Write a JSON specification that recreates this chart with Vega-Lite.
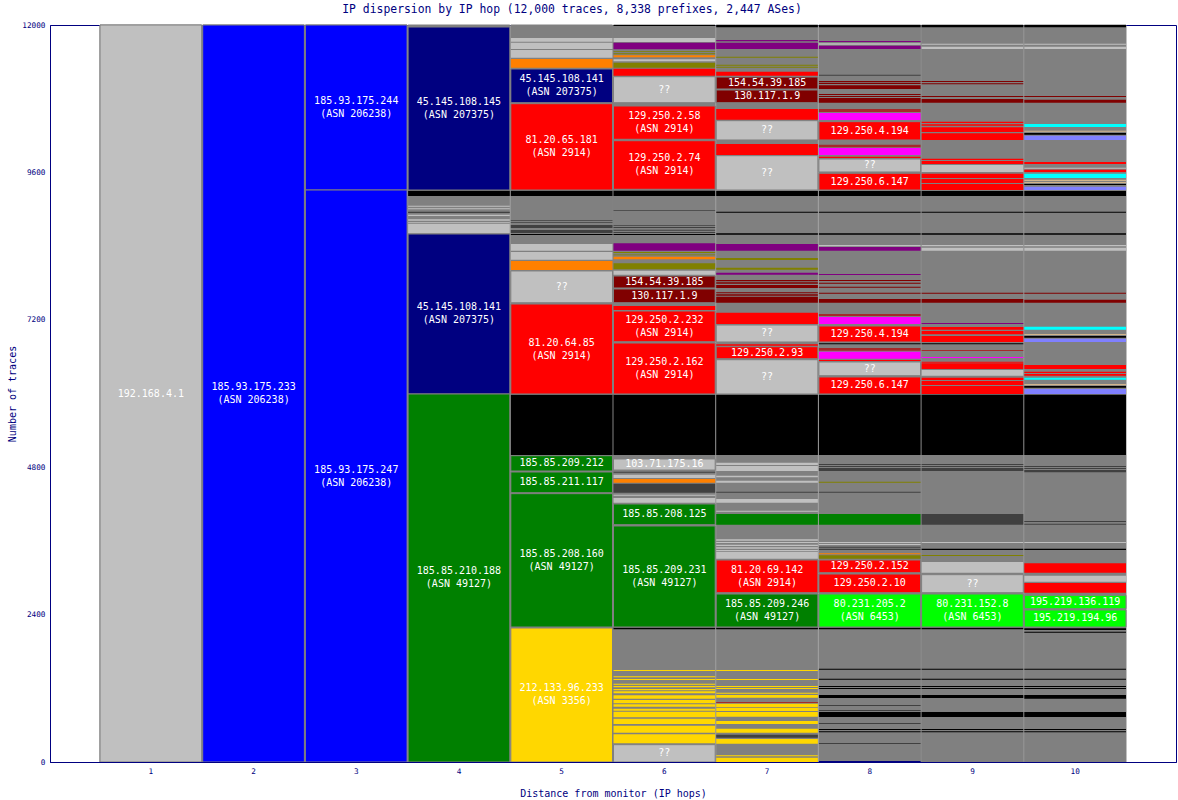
{
"$schema":"https://vega.github.io/schema/vega-lite/v6.json",
"width":1126,"height":737,
"autosize":"none",
"padding":{"left":50,"top":25,"right":2,"bottom":38},
"background":"white",
"title":{"text":"IP dispersion by IP hop (12,000 traces, 8,338 prefixes, 2,447 ASes)","font":"DejaVu Sans Mono","fontSize":11.4,"fontWeight":"normal","color":"#000080","anchor":"middle","dx":-41,"offset":6},
"config":{"view":{"stroke":"#000080","strokeWidth":1},
 "axis":{"domainColor":"#000080","labelColor":"#000080","titleColor":"#000080","labelFont":"DejaVu Sans Mono","titleFont":"DejaVu Sans Mono","labelFontSize":7.7,"titleFontSize":10,"titleFontWeight":"normal","ticks":false,"grid":false}},
"data":{"values":[
{"h":1,"lo":0,"hi":12000,"g":"other"},{"h":2,"lo":0,"hi":12000,"g":"other"},{"h":3,"lo":0,"hi":12000,"g":"other"},{"h":4,"lo":0,"hi":12000,"g":"other"},{"h":5,"lo":0,"hi":12000,"g":"other"},{"h":6,"lo":0,"hi":12000,"g":"other"},{"h":7,"lo":0,"hi":12000,"g":"other"},{"h":8,"lo":0,"hi":12000,"g":"other"},{"h":9,"lo":0,"hi":12000,"g":"other"},{"h":10,"lo":0,"hi":12000,"g":"other"},
{"h":1,"lo":0,"hi":12000,"g":"unknown","t":"192.168.4.1"},
{"h":2,"lo":0,"hi":12000,"g":"AS206238","t":"185.93.175.233","a":"(ASN 206238)"},
{"h":3,"lo":9313,"hi":12000,"g":"AS206238","t":"185.93.175.244","a":"(ASN 206238)"},
{"h":3,"lo":0,"hi":9313,"g":"AS206238","t":"185.93.175.247","a":"(ASN 206238)"},
{"h":4,"lo":9313,"hi":11967,"g":"AS207375","t":"45.145.108.145","a":"(ASN 207375)"},
{"h":4,"lo":9216,"hi":9302,"g":"none"},
{"h":4,"lo":9042,"hi":9058,"g":"unknown"},
{"h":4,"lo":8999,"hi":9016,"g":"unknown"},
{"h":4,"lo":8939,"hi":8960,"g":"AS h"},
{"h":4,"lo":8890,"hi":8911,"g":"unknown"},
{"h":4,"lo":8814,"hi":8836,"g":"unknown"},
{"h":4,"lo":8771,"hi":8788,"g":"unknown"},
{"h":4,"lo":8608,"hi":8760,"g":"unknown"},
{"h":4,"lo":5992,"hi":8597,"g":"AS207375","t":"45.145.108.141","a":"(ASN 207375)"},
{"h":4,"lo":0,"hi":5992,"g":"AS49127","t":"185.85.210.188","a":"(ASN 49127)"},
{"h":5,"lo":11728,"hi":11788,"g":"unknown"},
{"h":5,"lo":11609,"hi":11712,"g":"unknown"},
{"h":5,"lo":11468,"hi":11593,"g":"unknown"},
{"h":5,"lo":11305,"hi":11446,"g":"AS c"},
{"h":5,"lo":10735,"hi":11284,"g":"AS207375","t":"45.145.108.141","a":"(ASN 207375)"},
{"h":5,"lo":9313,"hi":10719,"g":"AS2914","t":"81.20.65.181","a":"(ASN 2914)"},
{"h":5,"lo":9216,"hi":9302,"g":"none"},
{"h":5,"lo":8814,"hi":8825,"g":"AS h"},
{"h":5,"lo":8781,"hi":8792,"g":"AS h"},
{"h":5,"lo":8695,"hi":8744,"g":"AS h"},
{"h":5,"lo":8613,"hi":8662,"g":"AS h"},
{"h":5,"lo":8581,"hi":8597,"g":"none"},
{"h":5,"lo":8325,"hi":8434,"g":"unknown"},
{"h":5,"lo":8179,"hi":8304,"g":"unknown"},
{"h":5,"lo":8011,"hi":8157,"g":"AS c"},
{"h":5,"lo":7478,"hi":7995,"g":"unknown","t":"??"},
{"h":5,"lo":5992,"hi":7457,"g":"AS2914","t":"81.20.64.85","a":"(ASN 2914)"},
{"h":5,"lo":4999,"hi":5981,"g":"none"},
{"h":5,"lo":4738,"hi":4987,"g":"AS49127","t":"185.85.209.212"},
{"h":5,"lo":4385,"hi":4722,"g":"AS49127","t":"185.85.211.117"},
{"h":5,"lo":2198,"hi":4369,"g":"AS49127","t":"185.85.208.160","a":"(ASN 49127)"},
{"h":5,"lo":0,"hi":2182,"g":"AS3356","t":"212.133.96.233","a":"(ASN 3356)"},
{"h":6,"lo":11984,"hi":12000,"g":"none"},
{"h":6,"lo":11723,"hi":11788,"g":"unknown"},
{"h":6,"lo":11604,"hi":11712,"g":"AS a"},
{"h":6,"lo":11560,"hi":11572,"g":"AS b"},
{"h":6,"lo":11523,"hi":11539,"g":"AS b"},
{"h":6,"lo":11474,"hi":11507,"g":"AS c"},
{"h":6,"lo":11409,"hi":11442,"g":"unknown"},
{"h":6,"lo":11305,"hi":11386,"g":"AS b"},
{"h":6,"lo":11174,"hi":11288,"g":"AS2914"},
{"h":6,"lo":10735,"hi":11158,"g":"unknown","t":"??"},
{"h":6,"lo":10139,"hi":10681,"g":"AS2914","t":"129.250.2.58","a":"(ASN 2914)"},
{"h":6,"lo":9325,"hi":10116,"g":"AS2914","t":"129.250.2.74","a":"(ASN 2914)"},
{"h":6,"lo":9216,"hi":9302,"g":"none"},
{"h":6,"lo":8976,"hi":8988,"g":"AS h"},
{"h":6,"lo":8732,"hi":8744,"g":"AS h"},
{"h":6,"lo":8695,"hi":8711,"g":"AS h"},
{"h":6,"lo":8651,"hi":8667,"g":"AS h"},
{"h":6,"lo":8613,"hi":8630,"g":"AS h"},
{"h":6,"lo":8581,"hi":8597,"g":"none"},
{"h":6,"lo":8325,"hi":8446,"g":"AS a"},
{"h":6,"lo":8288,"hi":8304,"g":"AS b"},
{"h":6,"lo":8250,"hi":8263,"g":"AS b"},
{"h":6,"lo":8185,"hi":8227,"g":"AS c"},
{"h":6,"lo":8022,"hi":8120,"g":"AS b"},
{"h":6,"lo":7934,"hi":8000,"g":"unknown"},
{"h":6,"lo":7718,"hi":7913,"g":"AS174","t":"154.54.39.185"},
{"h":6,"lo":7478,"hi":7702,"g":"AS174","t":"130.117.1.9"},
{"h":6,"lo":7360,"hi":7425,"g":"AS2914"},
{"h":6,"lo":6843,"hi":7343,"g":"AS2914","t":"129.250.2.232","a":"(ASN 2914)"},
{"h":6,"lo":5992,"hi":6822,"g":"AS2914","t":"129.250.2.162","a":"(ASN 2914)"},
{"h":6,"lo":4999,"hi":5981,"g":"none"},
{"h":6,"lo":4754,"hi":4934,"g":"unknown","t":"103.71.175.16"},
{"h":6,"lo":4711,"hi":4727,"g":"AS h"},
{"h":6,"lo":4624,"hi":4678,"g":"unknown"},
{"h":6,"lo":4548,"hi":4608,"g":"AS c"},
{"h":6,"lo":4385,"hi":4531,"g":"AS h"},
{"h":6,"lo":4336,"hi":4352,"g":"unknown"},
{"h":6,"lo":4222,"hi":4299,"g":"unknown"},
{"h":6,"lo":3864,"hi":4201,"g":"AS49127","t":"185.85.208.125"},
{"h":6,"lo":2198,"hi":3843,"g":"AS49127","t":"185.85.209.231","a":"(ASN 49127)"},
{"h":6,"lo":2161,"hi":2187,"g":"none"},
{"h":6,"lo":1482,"hi":1498,"g":"AS3356"},
{"h":6,"lo":1379,"hi":1395,"g":"AS3356"},
{"h":6,"lo":1335,"hi":1351,"g":"AS3356"},
{"h":6,"lo":1259,"hi":1275,"g":"AS3356"},
{"h":6,"lo":1216,"hi":1237,"g":"AS3356"},
{"h":6,"lo":1167,"hi":1189,"g":"AS3356"},
{"h":6,"lo":1119,"hi":1151,"g":"AS3356"},
{"h":6,"lo":1031,"hi":1086,"g":"AS3356"},
{"h":6,"lo":956,"hi":1010,"g":"AS3356"},
{"h":6,"lo":900,"hi":940,"g":"AS3356"},
{"h":6,"lo":835,"hi":868,"g":"AS3356"},
{"h":6,"lo":728,"hi":819,"g":"AS3356"},
{"h":6,"lo":619,"hi":705,"g":"AS3356"},
{"h":6,"lo":477,"hi":591,"g":"AS3356"},
{"h":6,"lo":305,"hi":451,"g":"AS3356"},
{"h":6,"lo":0,"hi":282,"g":"unknown","t":"??"},
{"h":7,"lo":11962,"hi":12000,"g":"none"},
{"h":7,"lo":11735,"hi":11756,"g":"AS a"},
{"h":7,"lo":11609,"hi":11712,"g":"AS a"},
{"h":7,"lo":11468,"hi":11484,"g":"AS b"},
{"h":7,"lo":11337,"hi":11354,"g":"AS b"},
{"h":7,"lo":11305,"hi":11321,"g":"AS b"},
{"h":7,"lo":11174,"hi":11240,"g":"AS2914"},
{"h":7,"lo":10958,"hi":11153,"g":"AS174","t":"154.54.39.185"},
{"h":7,"lo":10735,"hi":10942,"g":"AS174","t":"130.117.1.9"},
{"h":7,"lo":10458,"hi":10632,"g":"AS2914"},
{"h":7,"lo":10128,"hi":10442,"g":"unknown","t":"??"},
{"h":7,"lo":9883,"hi":10062,"g":"AS2914"},
{"h":7,"lo":9313,"hi":9872,"g":"unknown","t":"??"},
{"h":7,"lo":9216,"hi":9297,"g":"none"},
{"h":7,"lo":8944,"hi":8960,"g":"none"},
{"h":7,"lo":8586,"hi":8608,"g":"none"},
{"h":7,"lo":8325,"hi":8434,"g":"AS a"},
{"h":7,"lo":8174,"hi":8206,"g":"AS b"},
{"h":7,"lo":8016,"hi":8048,"g":"AS b"},
{"h":7,"lo":7934,"hi":7967,"g":"AS a"},
{"h":7,"lo":7827,"hi":7848,"g":"AS174"},
{"h":7,"lo":7788,"hi":7811,"g":"AS174"},
{"h":7,"lo":7718,"hi":7767,"g":"AS174"},
{"h":7,"lo":7632,"hi":7648,"g":"AS174"},
{"h":7,"lo":7592,"hi":7615,"g":"AS174"},
{"h":7,"lo":7478,"hi":7576,"g":"AS174"},
{"h":7,"lo":7132,"hi":7316,"g":"AS2914"},
{"h":7,"lo":6839,"hi":7115,"g":"unknown","t":"??"},
{"h":7,"lo":6778,"hi":6801,"g":"AS2914"},
{"h":7,"lo":6567,"hi":6762,"g":"AS2914","t":"129.250.2.93"},
{"h":7,"lo":5992,"hi":6550,"g":"unknown","t":"??"},
{"h":7,"lo":4999,"hi":5981,"g":"none"},
{"h":7,"lo":4836,"hi":4873,"g":"unknown"},
{"h":7,"lo":4738,"hi":4820,"g":"unknown"},
{"h":7,"lo":4636,"hi":4662,"g":"unknown"},
{"h":7,"lo":4548,"hi":4580,"g":"unknown"},
{"h":7,"lo":4385,"hi":4401,"g":"AS h"},
{"h":7,"lo":4222,"hi":4282,"g":"unknown"},
{"h":7,"lo":4076,"hi":4092,"g":"unknown"},
{"h":7,"lo":3864,"hi":4038,"g":"AS49127"},
{"h":7,"lo":3603,"hi":3626,"g":"unknown"},
{"h":7,"lo":3566,"hi":3582,"g":"unknown"},
{"h":7,"lo":3517,"hi":3538,"g":"unknown"},
{"h":7,"lo":3473,"hi":3496,"g":"unknown"},
{"h":7,"lo":3431,"hi":3452,"g":"unknown"},
{"h":7,"lo":3310,"hi":3419,"g":"unknown"},
{"h":7,"lo":2757,"hi":3289,"g":"AS2914","t":"81.20.69.142","a":"(ASN 2914)"},
{"h":7,"lo":2198,"hi":2735,"g":"AS49127","t":"185.85.209.246","a":"(ASN 49127)"},
{"h":7,"lo":2161,"hi":2187,"g":"none"},
{"h":7,"lo":1482,"hi":1498,"g":"AS3356"},
{"h":7,"lo":1335,"hi":1351,"g":"AS3356"},
{"h":7,"lo":1221,"hi":1237,"g":"AS3356"},
{"h":7,"lo":1189,"hi":1205,"g":"AS3356"},
{"h":7,"lo":1112,"hi":1128,"g":"AS3356"},
{"h":7,"lo":1047,"hi":1091,"g":"AS3356"},
{"h":7,"lo":961,"hi":977,"g":"AS i"},
{"h":7,"lo":896,"hi":949,"g":"AS3356"},
{"h":7,"lo":830,"hi":884,"g":"AS3356"},
{"h":7,"lo":738,"hi":814,"g":"AS3356"},
{"h":7,"lo":619,"hi":668,"g":"AS3356"},
{"h":7,"lo":477,"hi":542,"g":"AS3356"},
{"h":7,"lo":396,"hi":445,"g":"AS h"},
{"h":7,"lo":298,"hi":375,"g":"AS3356"},
{"h":7,"lo":93,"hi":109,"g":"AS3356"},
{"h":7,"lo":0,"hi":70,"g":"AS3356"},
{"h":8,"lo":11962,"hi":12000,"g":"none"},
{"h":8,"lo":11723,"hi":11740,"g":"AS a"},
{"h":8,"lo":11679,"hi":11702,"g":"unknown"},
{"h":8,"lo":11609,"hi":11663,"g":"AS a"},
{"h":8,"lo":11174,"hi":11191,"g":"AS h"},
{"h":8,"lo":11072,"hi":11088,"g":"AS174"},
{"h":8,"lo":11039,"hi":11061,"g":"AS174"},
{"h":8,"lo":10958,"hi":11018,"g":"AS174"},
{"h":8,"lo":10860,"hi":10877,"g":"AS174"},
{"h":8,"lo":10828,"hi":10844,"g":"AS174"},
{"h":8,"lo":10735,"hi":10811,"g":"AS174"},
{"h":8,"lo":10583,"hi":10632,"g":"AS i"},
{"h":8,"lo":10453,"hi":10567,"g":"AS d"},
{"h":8,"lo":10128,"hi":10426,"g":"AS2914","t":"129.250.4.194"},
{"h":8,"lo":10009,"hi":10051,"g":"AS i"},
{"h":8,"lo":9883,"hi":9997,"g":"AS d"},
{"h":8,"lo":9835,"hi":9856,"g":"AS2914"},
{"h":8,"lo":9607,"hi":9818,"g":"unknown","t":"??"},
{"h":8,"lo":9313,"hi":9585,"g":"AS2914","t":"129.250.6.147"},
{"h":8,"lo":9216,"hi":9297,"g":"none"},
{"h":8,"lo":8944,"hi":8960,"g":"none"},
{"h":8,"lo":8586,"hi":8608,"g":"none"},
{"h":8,"lo":8397,"hi":8418,"g":"unknown"},
{"h":8,"lo":8325,"hi":8385,"g":"AS a"},
{"h":8,"lo":7929,"hi":7946,"g":"AS a"},
{"h":8,"lo":7832,"hi":7848,"g":"AS174"},
{"h":8,"lo":7788,"hi":7804,"g":"AS174"},
{"h":8,"lo":7723,"hi":7739,"g":"AS174"},
{"h":8,"lo":7625,"hi":7641,"g":"AS174"},
{"h":8,"lo":7478,"hi":7539,"g":"AS174"},
{"h":8,"lo":7262,"hi":7294,"g":"AS i"},
{"h":8,"lo":7132,"hi":7246,"g":"AS d"},
{"h":8,"lo":6839,"hi":7099,"g":"AS2914","t":"129.250.4.194"},
{"h":8,"lo":6801,"hi":6817,"g":"none"},
{"h":8,"lo":6697,"hi":6741,"g":"AS i"},
{"h":8,"lo":6567,"hi":6681,"g":"AS d"},
{"h":8,"lo":6529,"hi":6545,"g":"AS2914"},
{"h":8,"lo":6290,"hi":6513,"g":"unknown","t":"??"},
{"h":8,"lo":5992,"hi":6269,"g":"AS2914","t":"129.250.6.147"},
{"h":8,"lo":4999,"hi":5981,"g":"none"},
{"h":8,"lo":4836,"hi":4852,"g":"AS h"},
{"h":8,"lo":4803,"hi":4820,"g":"AS h"},
{"h":8,"lo":4738,"hi":4787,"g":"AS h"},
{"h":8,"lo":4548,"hi":4564,"g":"AS b"},
{"h":8,"lo":4385,"hi":4401,"g":"AS h"},
{"h":8,"lo":3864,"hi":4038,"g":"AS49127"},
{"h":8,"lo":3566,"hi":3582,"g":"unknown"},
{"h":8,"lo":3533,"hi":3550,"g":"unknown"},
{"h":8,"lo":3489,"hi":3506,"g":"AS h"},
{"h":8,"lo":3452,"hi":3473,"g":"AS h"},
{"h":8,"lo":3382,"hi":3398,"g":"AS c"},
{"h":8,"lo":3310,"hi":3366,"g":"AS b"},
{"h":8,"lo":3082,"hi":3289,"g":"AS2914","t":"129.250.2.152"},
{"h":8,"lo":2757,"hi":3061,"g":"AS2914","t":"129.250.2.10"},
{"h":8,"lo":2198,"hi":2735,"g":"AS6453","t":"80.231.205.2","a":"(ASN 6453)"},
{"h":8,"lo":2161,"hi":2187,"g":"none"},
{"h":8,"lo":1503,"hi":1519,"g":"none"},
{"h":8,"lo":1340,"hi":1356,"g":"none"},
{"h":8,"lo":1221,"hi":1237,"g":"none"},
{"h":8,"lo":1189,"hi":1205,"g":"none"},
{"h":8,"lo":1042,"hi":1091,"g":"none"},
{"h":8,"lo":912,"hi":928,"g":"AS h"},
{"h":8,"lo":830,"hi":847,"g":"AS h"},
{"h":8,"lo":733,"hi":814,"g":"none"},
{"h":8,"lo":619,"hi":635,"g":"AS h"},
{"h":8,"lo":521,"hi":537,"g":"none"},
{"h":8,"lo":484,"hi":500,"g":"none"},
{"h":8,"lo":293,"hi":309,"g":"AS h"},
{"h":8,"lo":0,"hi":16,"g":"AS207375"},
{"h":9,"lo":11962,"hi":12000,"g":"none"},
{"h":9,"lo":11679,"hi":11696,"g":"unknown"},
{"h":9,"lo":11609,"hi":11647,"g":"unknown"},
{"h":9,"lo":11072,"hi":11088,"g":"AS174"},
{"h":9,"lo":11034,"hi":11051,"g":"AS174"},
{"h":9,"lo":10828,"hi":10844,"g":"AS174"},
{"h":9,"lo":10735,"hi":10795,"g":"AS174"},
{"h":9,"lo":10404,"hi":10426,"g":"AS2914"},
{"h":9,"lo":10360,"hi":10383,"g":"AS2914"},
{"h":9,"lo":10258,"hi":10334,"g":"AS2914"},
{"h":9,"lo":10128,"hi":10237,"g":"AS2914"},
{"h":9,"lo":9802,"hi":9823,"g":"AS2914"},
{"h":9,"lo":9737,"hi":9786,"g":"AS2914"},
{"h":9,"lo":9607,"hi":9721,"g":"unknown"},
{"h":9,"lo":9509,"hi":9579,"g":"AS2914"},
{"h":9,"lo":9427,"hi":9493,"g":"AS2914"},
{"h":9,"lo":9313,"hi":9411,"g":"AS2914"},
{"h":9,"lo":9216,"hi":9297,"g":"none"},
{"h":9,"lo":8944,"hi":8960,"g":"none"},
{"h":9,"lo":8586,"hi":8608,"g":"none"},
{"h":9,"lo":8397,"hi":8418,"g":"unknown"},
{"h":9,"lo":8325,"hi":8374,"g":"unknown"},
{"h":9,"lo":7625,"hi":7641,"g":"AS174"},
{"h":9,"lo":7478,"hi":7539,"g":"AS174"},
{"h":9,"lo":7132,"hi":7148,"g":"AS a"},
{"h":9,"lo":7039,"hi":7083,"g":"AS2914"},
{"h":9,"lo":6964,"hi":7018,"g":"AS2914"},
{"h":9,"lo":6839,"hi":6936,"g":"AS2914"},
{"h":9,"lo":6801,"hi":6817,"g":"none"},
{"h":9,"lo":6692,"hi":6708,"g":"AS i"},
{"h":9,"lo":6578,"hi":6594,"g":"AS d"},
{"h":9,"lo":6502,"hi":6518,"g":"AS2914"},
{"h":9,"lo":6399,"hi":6492,"g":"AS2914"},
{"h":9,"lo":6290,"hi":6383,"g":"unknown"},
{"h":9,"lo":6220,"hi":6257,"g":"AS2914"},
{"h":9,"lo":6138,"hi":6204,"g":"AS2914"},
{"h":9,"lo":5992,"hi":6122,"g":"AS2914"},
{"h":9,"lo":4999,"hi":5981,"g":"none"},
{"h":9,"lo":4836,"hi":4852,"g":"AS h"},
{"h":9,"lo":4803,"hi":4820,"g":"AS h"},
{"h":9,"lo":4738,"hi":4787,"g":"AS h"},
{"h":9,"lo":3864,"hi":4038,"g":"AS h"},
{"h":9,"lo":3566,"hi":3582,"g":"unknown"},
{"h":9,"lo":3452,"hi":3473,"g":"none"},
{"h":9,"lo":3354,"hi":3370,"g":"AS b"},
{"h":9,"lo":3082,"hi":3256,"g":"unknown"},
{"h":9,"lo":2757,"hi":3050,"g":"unknown","t":"??"},
{"h":9,"lo":2198,"hi":2735,"g":"AS6453","t":"80.231.152.8","a":"(ASN 6453)"},
{"h":9,"lo":2161,"hi":2187,"g":"none"},
{"h":9,"lo":1503,"hi":1519,"g":"none"},
{"h":9,"lo":1340,"hi":1356,"g":"none"},
{"h":9,"lo":1221,"hi":1237,"g":"none"},
{"h":9,"lo":1189,"hi":1205,"g":"none"},
{"h":9,"lo":1042,"hi":1091,"g":"none"},
{"h":9,"lo":733,"hi":814,"g":"none"},
{"h":9,"lo":521,"hi":537,"g":"none"},
{"h":9,"lo":484,"hi":500,"g":"none"},
{"h":10,"lo":11962,"hi":12000,"g":"none"},
{"h":10,"lo":11679,"hi":11696,"g":"unknown"},
{"h":10,"lo":11609,"hi":11647,"g":"unknown"},
{"h":10,"lo":10828,"hi":10844,"g":"AS174"},
{"h":10,"lo":10735,"hi":10784,"g":"AS174"},
{"h":10,"lo":10339,"hi":10388,"g":"AS e"},
{"h":10,"lo":10263,"hi":10279,"g":"AS g"},
{"h":10,"lo":10214,"hi":10242,"g":"none"},
{"h":10,"lo":10128,"hi":10198,"g":"AS f"},
{"h":10,"lo":9737,"hi":9769,"g":"AS2914"},
{"h":10,"lo":9660,"hi":9677,"g":"unknown"},
{"h":10,"lo":9607,"hi":9644,"g":"AS2914"},
{"h":10,"lo":9509,"hi":9579,"g":"AS e"},
{"h":10,"lo":9460,"hi":9481,"g":"AS g"},
{"h":10,"lo":9427,"hi":9444,"g":"AS g"},
{"h":10,"lo":9395,"hi":9411,"g":"none"},
{"h":10,"lo":9313,"hi":9367,"g":"AS f"},
{"h":10,"lo":9216,"hi":9297,"g":"none"},
{"h":10,"lo":8944,"hi":8960,"g":"none"},
{"h":10,"lo":8586,"hi":8608,"g":"none"},
{"h":10,"lo":8397,"hi":8418,"g":"unknown"},
{"h":10,"lo":8325,"hi":8374,"g":"unknown"},
{"h":10,"lo":7625,"hi":7641,"g":"AS174"},
{"h":10,"lo":7478,"hi":7527,"g":"AS174"},
{"h":10,"lo":7039,"hi":7088,"g":"AS e"},
{"h":10,"lo":6953,"hi":6969,"g":"AS g"},
{"h":10,"lo":6909,"hi":6936,"g":"none"},
{"h":10,"lo":6839,"hi":6892,"g":"AS f"},
{"h":10,"lo":6399,"hi":6464,"g":"AS2914"},
{"h":10,"lo":6334,"hi":6355,"g":"AS2914"},
{"h":10,"lo":6290,"hi":6318,"g":"AS2914"},
{"h":10,"lo":6225,"hi":6257,"g":"AS e"},
{"h":10,"lo":6134,"hi":6155,"g":"AS g"},
{"h":10,"lo":6094,"hi":6122,"g":"none"},
{"h":10,"lo":5992,"hi":6073,"g":"AS f"},
{"h":10,"lo":4999,"hi":5981,"g":"none"},
{"h":10,"lo":4803,"hi":4820,"g":"AS h"},
{"h":10,"lo":4771,"hi":4787,"g":"AS h"},
{"h":10,"lo":4717,"hi":4754,"g":"AS h"},
{"h":10,"lo":3908,"hi":3924,"g":"AS h"},
{"h":10,"lo":3864,"hi":3880,"g":"AS h"},
{"h":10,"lo":3566,"hi":3582,"g":"unknown"},
{"h":10,"lo":3452,"hi":3473,"g":"none"},
{"h":10,"lo":3082,"hi":3235,"g":"AS2914"},
{"h":10,"lo":2936,"hi":3033,"g":"unknown"},
{"h":10,"lo":2757,"hi":2915,"g":"AS2914"},
{"h":10,"lo":2496,"hi":2714,"g":"AS6453","t":"195.219.136.119"},
{"h":10,"lo":2198,"hi":2475,"g":"AS6453","t":"195.219.194.96"},
{"h":10,"lo":2149,"hi":2177,"g":"none"},
{"h":10,"lo":2105,"hi":2122,"g":"none"},
{"h":10,"lo":1503,"hi":1519,"g":"none"},
{"h":10,"lo":1340,"hi":1356,"g":"none"},
{"h":10,"lo":1221,"hi":1237,"g":"none"},
{"h":10,"lo":1189,"hi":1205,"g":"none"},
{"h":10,"lo":1031,"hi":1091,"g":"none"},
{"h":10,"lo":733,"hi":814,"g":"none"},
{"h":10,"lo":521,"hi":537,"g":"none"},
{"h":10,"lo":484,"hi":500,"g":"none"}
]},
"encoding":{
 "x":{"field":"h","type":"ordinal","scale":{"paddingInner":0.01,"paddingOuter":0.487},
  "axis":{"title":"Distance from monitor (IP hops)","labelAngle":0,"labelPadding":5,"titlePadding":14}},
 "y":{"field":"lo","type":"quantitative","scale":{"domain":[0,12000],"nice":false},
  "axis":{"title":"Number of traces","values":[0,2400,4800,7200,9600,12000],"format":"d","labelPadding":5,"titlePadding":4,"labelFlush":false,"labelOverlap":false}}
},
"layer":[
 {"transform":[{"filter":"datum.g == 'other'"}],
  "mark":{"type":"rect","stroke":"#808080","strokeWidth":1},
  "encoding":{"y2":{"field":"hi"},
   "color":{"field":"g","type":"nominal","legend":null,"scale":{"domain":["other","unknown","AS206238","AS207375","AS49127","AS2914","AS3356","none","AS174","AS6453","AS a","AS b","AS c","AS d","AS e","AS f","AS g","AS h","AS i"],"range":["#808080","#c0c0c0","#0000ff","#000080","#008000","#ff0000","#ffd700","#000000","#800000","#00ff00","#800080","#808000","#ff8000","#ff00ff","#00ffff","#8080ff","#d2b48c","#404040","#a52a2a"]}}}},
 {"transform":[{"filter":"datum.g != 'other' && !datum.t"}],
  "mark":{"type":"rect"},
  "encoding":{"y2":{"field":"hi"},"color":{"field":"g","type":"nominal","legend":null}}},
 {"transform":[{"filter":"datum.t"}],
  "mark":{"type":"rect","stroke":"#808080","strokeWidth":1},
  "encoding":{"y2":{"field":"hi"},"color":{"field":"g","type":"nominal","legend":null}}},
 {"transform":[{"filter":"datum.t && !datum.a"},{"calculate":"(datum.lo + datum.hi) / 2","as":"mid"}],
  "mark":{"type":"text","font":"DejaVu Sans Mono","fontSize":10,"color":"white","baseline":"middle"},
  "encoding":{"y":{"field":"mid","type":"quantitative"},"text":{"field":"t"}}},
 {"transform":[{"filter":"datum.a"},{"calculate":"(datum.lo + datum.hi) / 2","as":"mid"}],
  "mark":{"type":"text","font":"DejaVu Sans Mono","fontSize":10,"color":"white","baseline":"middle","dy":-6.5},
  "encoding":{"y":{"field":"mid","type":"quantitative"},"text":{"field":"t"}}},
 {"transform":[{"filter":"datum.a"},{"calculate":"(datum.lo + datum.hi) / 2","as":"mid"}],
  "mark":{"type":"text","font":"DejaVu Sans Mono","fontSize":10,"color":"white","baseline":"middle","dy":6.5},
  "encoding":{"y":{"field":"mid","type":"quantitative"},"text":{"field":"a"}}}
]
}
